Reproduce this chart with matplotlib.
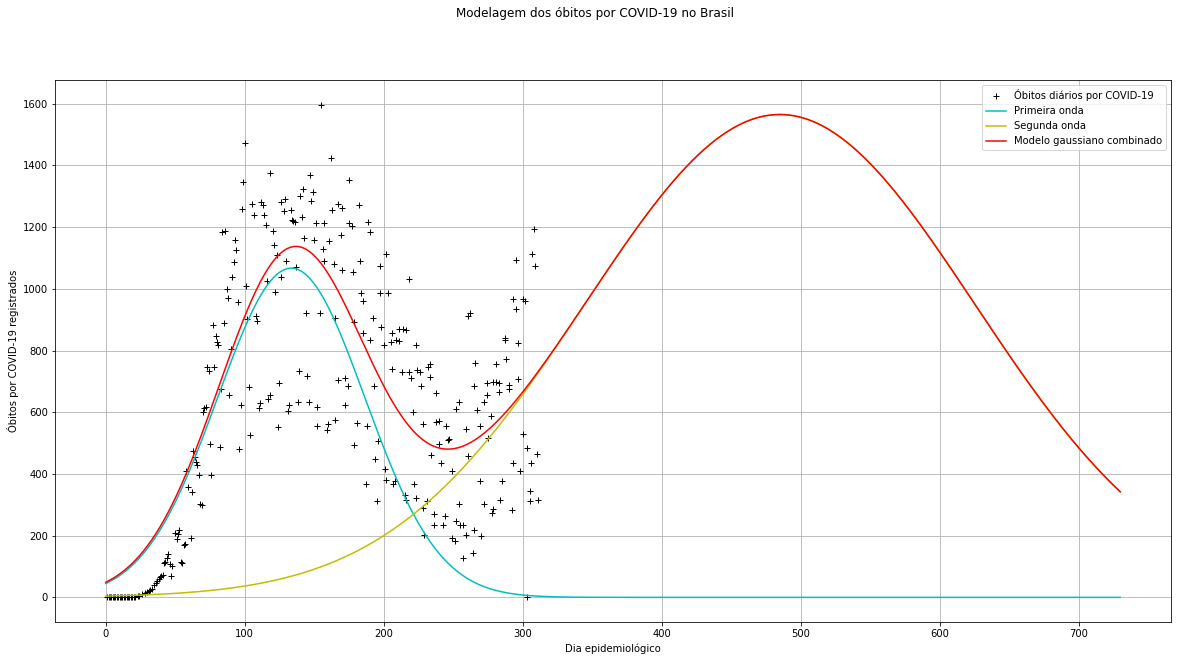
#!/usr/bin/env python3
# -*- coding: utf-8 -*-

import numpy as np
import matplotlib
matplotlib.use("Agg")
import matplotlib.pyplot as plt

# óbitos diários (dia epidemiológico, óbitos)
dias = list(range(1, 22)) + [
    23, 24, 26, 28, 30, 31, 32, 33, 35, 36, 37, 38, 39, 40, 41,
    42, 43, 44, 45, 46, 47, 48, 50, 51, 52, 53, 54, 55, 56, 57,
    58, 59, 61, 62, 63, 64, 65, 66, 67, 68, 69, 70, 71, 72, 73,
    74, 75, 76, 77, 78, 79, 80, 81, 82, 83, 84, 85, 86, 87, 88,
    89, 90, 91, 92, 93, 94, 95, 96, 97, 98, 99, 100, 101, 102, 103,
    104, 105, 107, 108, 109, 110, 111, 112, 113, 114, 115, 116, 117, 118, 118,
    120, 121, 122, 123, 124, 125, 126, 126, 128, 129, 130, 131, 132, 133, 134,
    135, 136, 137, 138, 139, 140, 141, 142, 143, 144, 145, 146, 147, 148, 149,
    150, 151, 152, 152, 154, 155, 156, 157, 157, 159, 160, 161, 162, 163, 164,
    165, 165, 167, 167, 169, 170, 170, 172, 172, 174, 175, 175, 177, 178, 179,
    179, 181, 182, 183, 184, 185, 185, 187, 188, 189, 190, 190, 192, 193, 194,
    195, 196, 197, 197, 198, 200, 201, 202, 202, 203, 205, 206, 206, 207, 208,
    209, 211, 211, 213, 214, 215, 216, 216, 218, 218, 220, 221, 222, 223, 223,
    224, 226, 227, 228, 228, 229, 231, 232, 233, 233, 234, 236, 236, 238, 238,
    240, 240, 241, 243, 244, 245, 246, 247, 249, 249, 251, 252, 252, 254, 254,
    255, 257, 257, 259, 259, 261, 261, 262, 264, 265, 265, 266, 267, 269, 269,
    270, 272, 272, 274, 274, 275, 277, 278, 279, 279, 281, 281, 283, 283, 284,
    285, 287, 287, 288, 290, 290, 292, 293, 293, 295, 295, 297, 297, 298, 300,
    300, 302, 303, 303, 305, 305, 306, 307, 308, 309, 310, 311,
]
obitos = [0] * 21 + [
    3, 5, 11, 13, 19, 22, 24, 27, 41, 45, 54, 59, 65, 68, 73,
    110, 116, 129, 140, 108, 70, 102, 208, 190, 206, 219, 116, 112, 169, 172,
    409, 357, 191, 341, 473, 455, 439, 430, 398, 301, 298, 602, 613, 617, 747,
    733, 497, 398, 882, 747, 847, 828, 817, 487, 675, 1183, 890, 1188, 1000, 969,
    656, 806, 1038, 1088, 1158, 1126, 958, 481, 624, 1260, 1347, 1473, 1008, 903, 681,
    527, 1274, 1240, 912, 895, 613, 629, 1282, 1271, 1240, 1208, 1024, 642, 656, 1374,
    1187, 1142, 991, 1110, 553, 694, 1280, 1039, 1251, 1290, 1091, 603, 623, 1256, 1224,
    1219, 1217, 1071, 632, 735, 1301, 1233, 1323, 1165, 923, 716, 632, 1368, 1284, 1313,
    1158, 1213, 556, 616, 923, 1597, 1129, 1213, 1091, 543, 562, 1155, 1423, 1256, 1082,
    906, 574, 704, 1275, 1174, 1261, 1062, 710, 623, 684, 1352, 1213, 1204, 1056, 892,
    495, 565, 1271, 1089, 985, 857, 959, 368, 556, 1217, 1185, 835, 906, 684, 449,
    311, 506, 1075, 985, 875, 817, 417, 382, 1113, 988, 828, 858, 739, 368, 378,
    835, 871, 831, 731, 871, 331, 317, 865, 1032, 731, 710, 600, 366, 323, 819,
    737, 729, 684, 562, 290, 203, 312, 748, 713, 756, 463, 233, 271, 661, 568,
    498, 572, 434, 233, 265, 554, 511, 513, 411, 191, 182, 247, 610, 632, 303,
    233, 129, 233, 203, 545, 912, 459, 923, 143, 217, 686, 758, 606, 554, 378,
    198, 304, 632, 656, 694, 517, 588, 274, 699, 288, 697, 756, 694, 665, 315,
    378, 842, 834, 771, 688, 675, 282, 437, 966, 935, 1094, 823, 708, 411, 529,
    968, 960, 0, 484, 312, 346, 434, 1113, 1194, 1074, 466, 317,
]

# parâmetros do modelo gaussiano: (amplitude, centro, largura)
onda1 = (1067.0, 133.5, 53.0)
onda2 = (1565.0, 485.0, 140.5)
dia_final = 730


def gaussiana(x, a, mu, sigma):
    return a * np.exp(-(x - mu) ** 2 / (2 * sigma ** 2))


def main():
    x = np.arange(0, dia_final + 1)
    y1 = gaussiana(x, *onda1)
    y2 = gaussiana(x, *onda2)

    fig = plt.figure(figsize=(1178 / 72, 661 / 72), dpi=72)
    ax = fig.add_axes([55 / 1178, 39 / 661, 1116 / 1178, 542 / 661])

    ax.plot(dias, obitos, "k+", label="Óbitos diários por COVID-19")
    ax.plot(x, y1, "c", label="Primeira onda")
    ax.plot(x, y2, "y", label="Segunda onda")
    ax.plot(x, y1 + y2, "r", label="Modelo gaussiano combinado")

    ax.set_xlabel("Dia epidemiológico")
    ax.set_ylabel("Óbitos por COVID-19 registrados")
    ax.grid(True)
    ax.legend(loc="upper right")

    fig.suptitle("Modelagem dos óbitos por COVID-19 no Brasil",
                 x=595 / 1178, y=0.99, va="top")

    fig.savefig("out.png", dpi=72)
    plt.close(fig)


if __name__ == "__main__":
    main()
